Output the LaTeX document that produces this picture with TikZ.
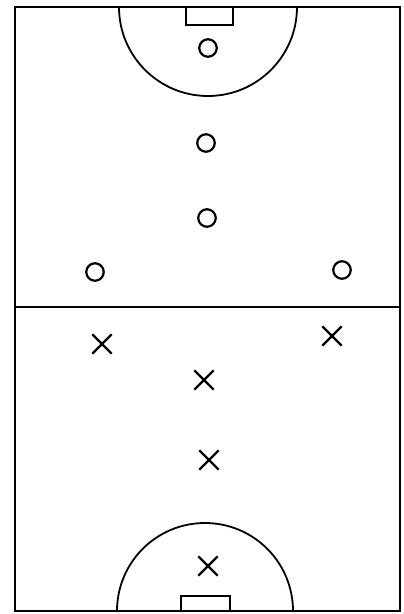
\documentclass[tikz,border=0pt]{standalone}
\usetikzlibrary{shapes.misc}
\begin{document}
\begin{tikzpicture}[x=1pt,y=-1pt,
  line/.style={draw=black,line width=1.8pt},
  opp/.style={circle,draw=black,line width=2.2pt,minimum size=17.5pt,inner sep=0pt},
  own/.style={cross out,draw=black,line width=2.3pt,minimum size=17pt,inner sep=0pt}]
\useasboundingbox (0,0) rectangle (404,614);
% court
\draw[line] (15,7) rectangle (400,611);
\draw[line] (15,307) -- (400,307);
% top circle and goal
\draw[line] (119,7) arc[start angle=180,end angle=360,radius=89pt];
\draw[line] (186,7) rectangle (233,25);
% bottom circle and goal
\draw[line] (117,611) arc[start angle=180,end angle=0,radius=88pt];
\draw[line] (181,611) rectangle (230,596);
% O players
\node[opp] (o1) at (208,48) {};
\node[opp] (o2) at (206,143) {};
\node[opp] (o3) at (207,218) {};
\node[opp] (o4) at (95,272) {};
\node[opp] (o5) at (342,270) {};
% X players
\node[own] (x1) at (102,344) {};
\node[own] (x2) at (332,336) {};
\node[own] (x3) at (204,380) {};
\node[own] (x4) at (209,460) {};
\node[own] (x5) at (208,566) {};
\end{tikzpicture}
\end{document}
